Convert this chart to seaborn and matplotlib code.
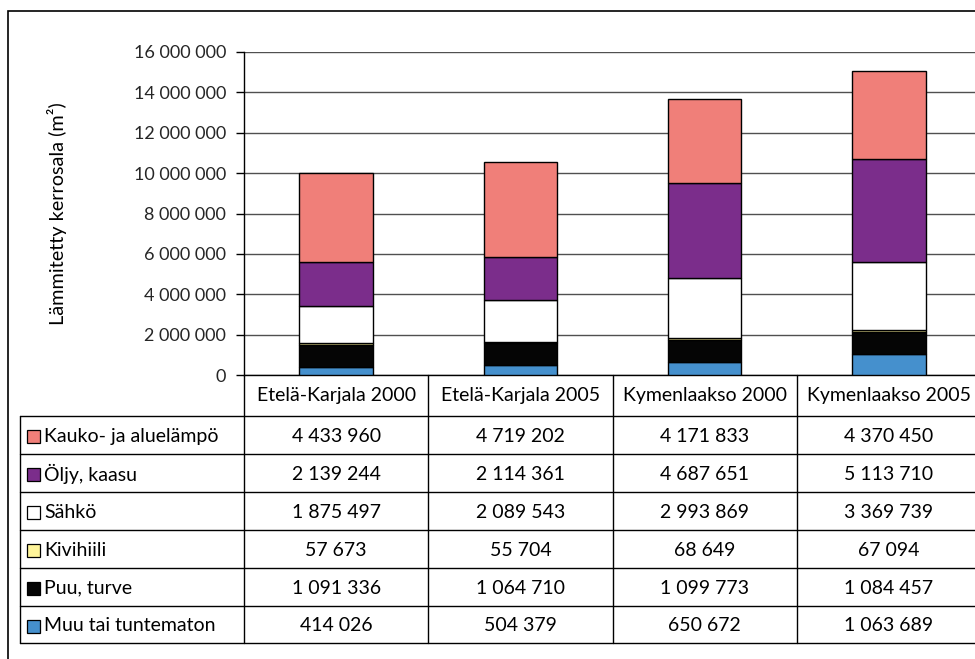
import matplotlib
matplotlib.use("Agg")
import matplotlib.pyplot as plt
import matplotlib.transforms as mtransforms
from matplotlib.patches import Rectangle
import seaborn as sns
import pandas as pd
import numpy as np

# --- data -------------------------------------------------------------
regions = ["Etelä-Karjala 2000", "Etelä-Karjala 2005", "Kymenlaakso 2000", "Kymenlaakso 2005"]

# series listed from bottom of the stack to the top
series_names = ["Muu tai tuntematon", "Puu, turve", "Kivihiili", "Sähkö", "Öljy, kaasu", "Kauko- ja aluelämpö"]
muu = [414026, 504379, 650672, 1063689]
puu = [1091336, 1064710, 1099773, 1084457]
kivihiili = [57673, 55704, 68649, 67094]
sahko = [1875497, 2089543, 2993869, 3369739]
oljy = [2139244, 2114361, 4687651, 5113710]
kauko = [4433960, 4719202, 4171833, 4370450]
series_values = [muu, puu, kivihiili, sahko, oljy, kauko]
series_colors = ["#4590CD", "#050505", "#FFF59A", "#FFFFFF", "#7B2D8B", "#F07F79"]

y_ticks = [0, 2000000, 4000000, 6000000, 8000000, 10000000, 12000000, 14000000, 16000000]


def fmt(v):
    return f"{v:,}".replace(",", " ")


# --- style ------------------------------------------------------------
sns.set_theme(style="white")
plt.rcParams["font.family"] = ["Lato", "DejaVu Sans"]
plt.rcParams["text.color"] = "black"

TICK_FS = 13
TABLE_FS = 14

W, H = 975, 659
fig = plt.figure(figsize=(W / 100, H / 100), dpi=100)
# axes: x from 244 px to 981 px, y from 375 px (zero) up to 52 px (16 000 000)
ax_left, ax_right = 244, 981
ax_top, ax_bottom = 52, 375
ax = fig.add_axes([ax_left / W, 1 - ax_bottom / H, (ax_right - ax_left) / W, (ax_bottom - ax_top) / H])
ax_h_px = ax_bottom - ax_top

# --- stacked bars -----------------------------------------------------
bottom = np.zeros(len(regions))
for name, vals, col in zip(series_names, series_values, series_colors):
    df = pd.DataFrame({"alue": regions, "ala": vals})
    sns.barplot(data=df, x="alue", y="ala", order=regions, color=col, bottom=bottom,
                width=0.4, edgecolor="black", linewidth=1.0, saturation=1, ax=ax, zorder=3)
    bottom = bottom + np.array(vals)

ax.set_xlim(-0.5, len(regions) - 0.5)
ax.set_ylim(0, 16000000)
ax.set_yticks(y_ticks)
ax.set_yticklabels([fmt(t) for t in y_ticks], fontsize=TICK_FS)
ax.set_xticks([])
ax.set_xlabel("")
ax.set_ylabel("")
ax.yaxis.grid(True, color="#505050", linewidth=1.0, zorder=0)
ax.set_axisbelow(True)
ax.tick_params(axis="y", which="major", left=True, length=6, width=1, color="black", pad=7)
for s in ["top", "right"]:
    ax.spines[s].set_visible(False)
ax.spines["left"].set_color("black")
ax.spines["left"].set_linewidth(1.0)
ax.spines["bottom"].set_color("black")
ax.spines["bottom"].set_linewidth(1.0)

fig.text(57 / W, 1 - 214 / H, "Lämmitetty kerrosala (m²)",
         rotation=90, ha="center", va="center", fontsize=14.3)

# --- data table below the axis ---------------------------------------
tr_data = mtransforms.blended_transform_factory(ax.transData, ax.transAxes)
tr_fig = mtransforms.blended_transform_factory(fig.transFigure, ax.transAxes)


def yax(px_below):
    return -px_below / ax_h_px


header_h = 41
row_h = 37.9
n_rows = len(series_names)
table_bottom = header_h + row_h * n_rows
label_left = 20 / W
line_kw = dict(color="black", linewidth=1.0, clip_on=False)

# vertical lines
ax.plot([label_left, label_left], [yax(header_h), yax(table_bottom)], transform=tr_fig, **line_kw)
for i in range(len(regions) + 1):
    xb = i - 0.5
    ax.plot([xb, xb], [0, yax(table_bottom)], transform=tr_data, **line_kw)

# horizontal lines
for r in range(n_rows + 1):
    yy = yax(header_h + r * row_h)
    ax.plot([label_left, 1.0], [yy, yy], transform=tr_fig, **line_kw)

# header cells
for i, reg in enumerate(regions):
    ax.text(i, yax(header_h / 2), reg, transform=tr_data, ha="center", va="center",
            fontsize=TABLE_FS, clip_on=False)

# body rows: top row is the top segment of the stack
table_order = list(range(n_rows))[::-1]
for r, si in enumerate(table_order):
    yc = yax(header_h + (r + 0.5) * row_h + 1.5)
    key_size = 13
    key = Rectangle((26.5 / W, yax(header_h + (r + 0.5) * row_h + 2 + key_size / 2)),
                    key_size / W, key_size / ax_h_px, transform=tr_fig,
                    facecolor=series_colors[si], edgecolor="black", linewidth=0.9, clip_on=False)
    ax.add_patch(key)
    ax.text(44 / W, yc, series_names[si], transform=tr_fig, ha="left", va="center",
            fontsize=TABLE_FS, clip_on=False)
    for i, v in enumerate(series_values[si]):
        ax.text(i, yc, fmt(v), transform=tr_data, ha="center", va="center",
                fontsize=TABLE_FS, clip_on=False)

# outer chart frame
frame = Rectangle((8 / W, -0.05), 1.2, 1 - 11 / H + 0.05, transform=fig.transFigure,
                  facecolor="none", edgecolor="black", linewidth=1.2, clip_on=False)
fig.add_artist(frame)

fig.savefig("out.png", dpi=100)
